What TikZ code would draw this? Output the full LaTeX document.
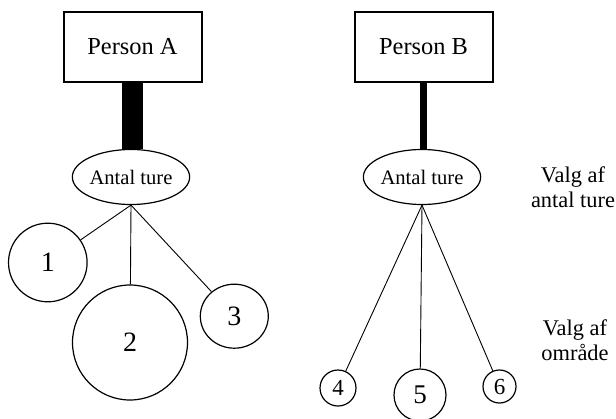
\documentclass[tikz,border=0pt]{standalone}
\usepackage{fontspec}
\setmainfont{Liberation Serif}
\usetikzlibrary{shapes.geometric}

\begin{document}
\begin{tikzpicture}[x=0.5pt,y=-0.5pt,
  person/.style={draw,line width=1pt,minimum width=69pt,minimum height=35pt,inner sep=0pt,font=\fontsize{12.2}{14}\selectfont},
  choice/.style={draw,ellipse,line width=0.6pt,minimum width=58pt,minimum height=27.5pt,inner sep=0pt,font=\fontsize{10.3}{12}\selectfont},
  area/.style={draw,circle,line width=0.6pt,inner sep=0pt},
  note/.style={align=center,font=\fontsize{11.2}{12.5}\selectfont}]
\useasboundingbox (0,0) rectangle (616,418);

\node[person] (pA) at (132.5,46.5) {Person A};
\node[person] (pB) at (423.5,46.5) {Person B};
\node[choice] (tA) at (131,177) {Antal ture};
\node[choice] (tB) at (422,177) {Antal ture};

\draw[line width=10.5pt] (pA.south) -- (pA.south |- tA.north);
\draw[line width=3.3pt] (pB.south) -- (pB.south |- tB.north);

\node[area,minimum size=39.3pt,font=\fontsize{14}{16}\selectfont] (o1) at (47.8,262.5) {1};
\node[area,minimum size=57.5pt,font=\fontsize{14}{16}\selectfont] (o2) at (130,342.5) {2};
\node[area,ellipse,minimum width=34pt,minimum height=32pt,font=\fontsize{14}{16}\selectfont] (o3) at (234.3,316.2) {3};
\node[area,minimum size=18pt,font=\fontsize{11.5}{13}\selectfont] (o4) at (338,388) {4};
\node[area,minimum size=26pt,font=\fontsize{13.5}{15}\selectfont] (o5) at (420,395) {5};
\node[area,minimum size=16.5pt,font=\fontsize{11.5}{13}\selectfont] (o6) at (499.5,386.5) {6};

\draw[line width=0.45pt] (tA.south) -- (o1);
\draw[line width=0.45pt] (tA.south) -- (o2);
\draw[line width=0.45pt] (tA.south) -- (o3);
\draw[line width=0.45pt] (tB.south) -- (o4);
\draw[line width=0.45pt] (tB.south) -- (o5);
\draw[line width=0.45pt] (tB.south) -- (o6);

\node[note] (qA) at (573,187) {Valg af\\antal ture};
\node[note] (qB) at (575,340) {Valg af\\område};
\end{tikzpicture}
\end{document}
